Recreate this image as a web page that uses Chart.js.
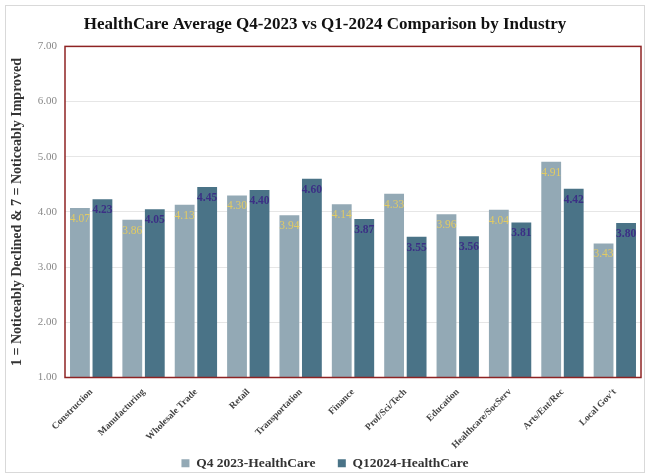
<!DOCTYPE html>
<html>
<head>
<meta charset="utf-8">
<script src="https://cdn.jsdelivr.net/npm/chart.js@4"></script>
<style>
  html, body { margin: 0; padding: 0; background: #fff; }
  #wrap { width: 647px; height: 474px; }
</style>
</head>
<body>
<div id="wrap"><canvas id="industryChart" width="647" height="474"></canvas></div>
<script>
// industries on the x axis
const industries = [
  "Construction", "Manufacturing", "Wholesale Trade", "Retail", "Transportation",
  "Finance", "Prof/Sci/Tech", "Education", "Healthcare/SocServ", "Arts/Ent/Rec", "Local Gov't"
];

// average scores per quarter
const q4_2023 = [4.07, 3.86, 4.13, 4.30, 3.94, 4.14, 4.33, 3.96, 4.04, 4.91, 3.43];
const q1_2024 = [4.23, 4.05, 4.45, 4.40, 4.60, 3.87, 3.55, 3.56, 3.81, 4.42, 3.80];

// y axis ticks
const yTicks = [1, 2, 3, 4, 5, 6, 7];

const serif = "'Liberation Serif', 'Times New Roman', serif";

// value labels just under the top of every bar
const barLabels = {
  id: "barLabels",
  afterDatasetsDraw(chart) {
    const ctx = chart.ctx;
    ctx.save();
    ctx.textAlign = "center";
    ctx.textBaseline = "middle";
    chart.data.datasets.forEach((ds, i) => {
      const meta = chart.getDatasetMeta(i);
      ctx.fillStyle = ds.labelColor;
      ctx.font = ds.labelFont;
      meta.data.forEach((bar, j) => {
        ctx.fillText(ds.data[j].toFixed(2), bar.x, bar.y + 11);
      });
    });
    ctx.restore();
  },
};

// dark red frame round the plot area + light outer frame
const frames = {
  id: "frames",
  beforeDraw(chart) {
    const ctx = chart.ctx;
    ctx.save();
    ctx.strokeStyle = "#d9d9d9";
    ctx.lineWidth = 1;
    ctx.strokeRect(5.5, 5.5, chart.width - 8, chart.height - 7);
    ctx.restore();
  },
  afterDatasetsDraw(chart) {
    const a = chart.chartArea;
    const ctx = chart.ctx;
    ctx.save();
    ctx.strokeStyle = "#8e2323";
    ctx.lineWidth = 1.5;
    ctx.strokeRect(a.left, a.top, a.right - a.left, a.bottom - a.top);
    ctx.restore();
  },
};

const config = {
  type: "bar",
  data: {
    labels: industries,
    datasets: [
      {
        label: "Q4 2023-HealthCare",
        data: q4_2023,
        backgroundColor: "#93a9b5",
        labelColor: "#e2cb63",
        labelFont: "11.5px " + serif,
        categoryPercentage: 0.86,
        barPercentage: 0.88,
      },
      {
        label: "Q12024-HealthCare",
        data: q1_2024,
        backgroundColor: "#4a7387",
        labelColor: "#3b2f85",
        labelFont: "bold 11.5px " + serif,
        categoryPercentage: 0.86,
        barPercentage: 0.88,
      },
    ],
  },
  options: {
    responsive: false,
    animation: false,
    layout: {
      padding: { left: 9, right: 6, top: 0, bottom: -6 },
    },
    plugins: {
      title: {
        display: true,
        text: "HealthCare Average Q4-2023 vs Q1-2024 Comparison by Industry",
        color: "#111",
        font: { family: serif, size: 17, weight: "bold" },
        padding: { top: 14, bottom: 12 },
      },
      legend: {
        position: "bottom",
        labels: {
          color: "#333",
          font: { family: serif, size: 13.5, weight: "bold" },
          boxWidth: 8,
          boxHeight: 8,
          padding: 2,
          // wider gap after the first entry
          generateLabels(chart) {
            const items = Chart.defaults.plugins.legend.labels.generateLabels(chart);
            items[0].text += "\u2002\u2002\u2002";
            return items;
          },
        },
      },
      tooltip: { enabled: false },
    },
    scales: {
      x: {
        grid: { display: false },
        border: { display: false },
        ticks: {
          color: "#444",
          font: { family: serif, size: 9.5, weight: "bold" },
          minRotation: 45,
          maxRotation: 45,
          padding: 1,
        },
        afterFit(scale) {
          scale.height = 77;
        },
      },
      y: {
        min: 1,
        max: 7,
        afterBuildTicks(scale) {
          scale.ticks = yTicks.map((v) => ({ value: v }));
        },
        grid: { color: "#e6e6e6", drawTicks: false },
        border: { display: false },
        ticks: {
          color: "#888",
          font: { family: serif, size: 11 },
          padding: 8,
          callback: (v) => v.toFixed(2),
        },
        title: {
          display: true,
          text: "1 = Noticeably Declined & 7 = Noticeably Improved",
          color: "#333",
          font: { family: serif, size: 14, weight: "bold" },
          padding: { top: 0, bottom: 6 },
        },
        afterFit(scale) {
          scale.width = 56;
        },
      },
    },
  },
  plugins: [barLabels, frames],
};

const industryChart = new Chart(document.getElementById("industryChart"), config);
</script>
</body>
</html>
